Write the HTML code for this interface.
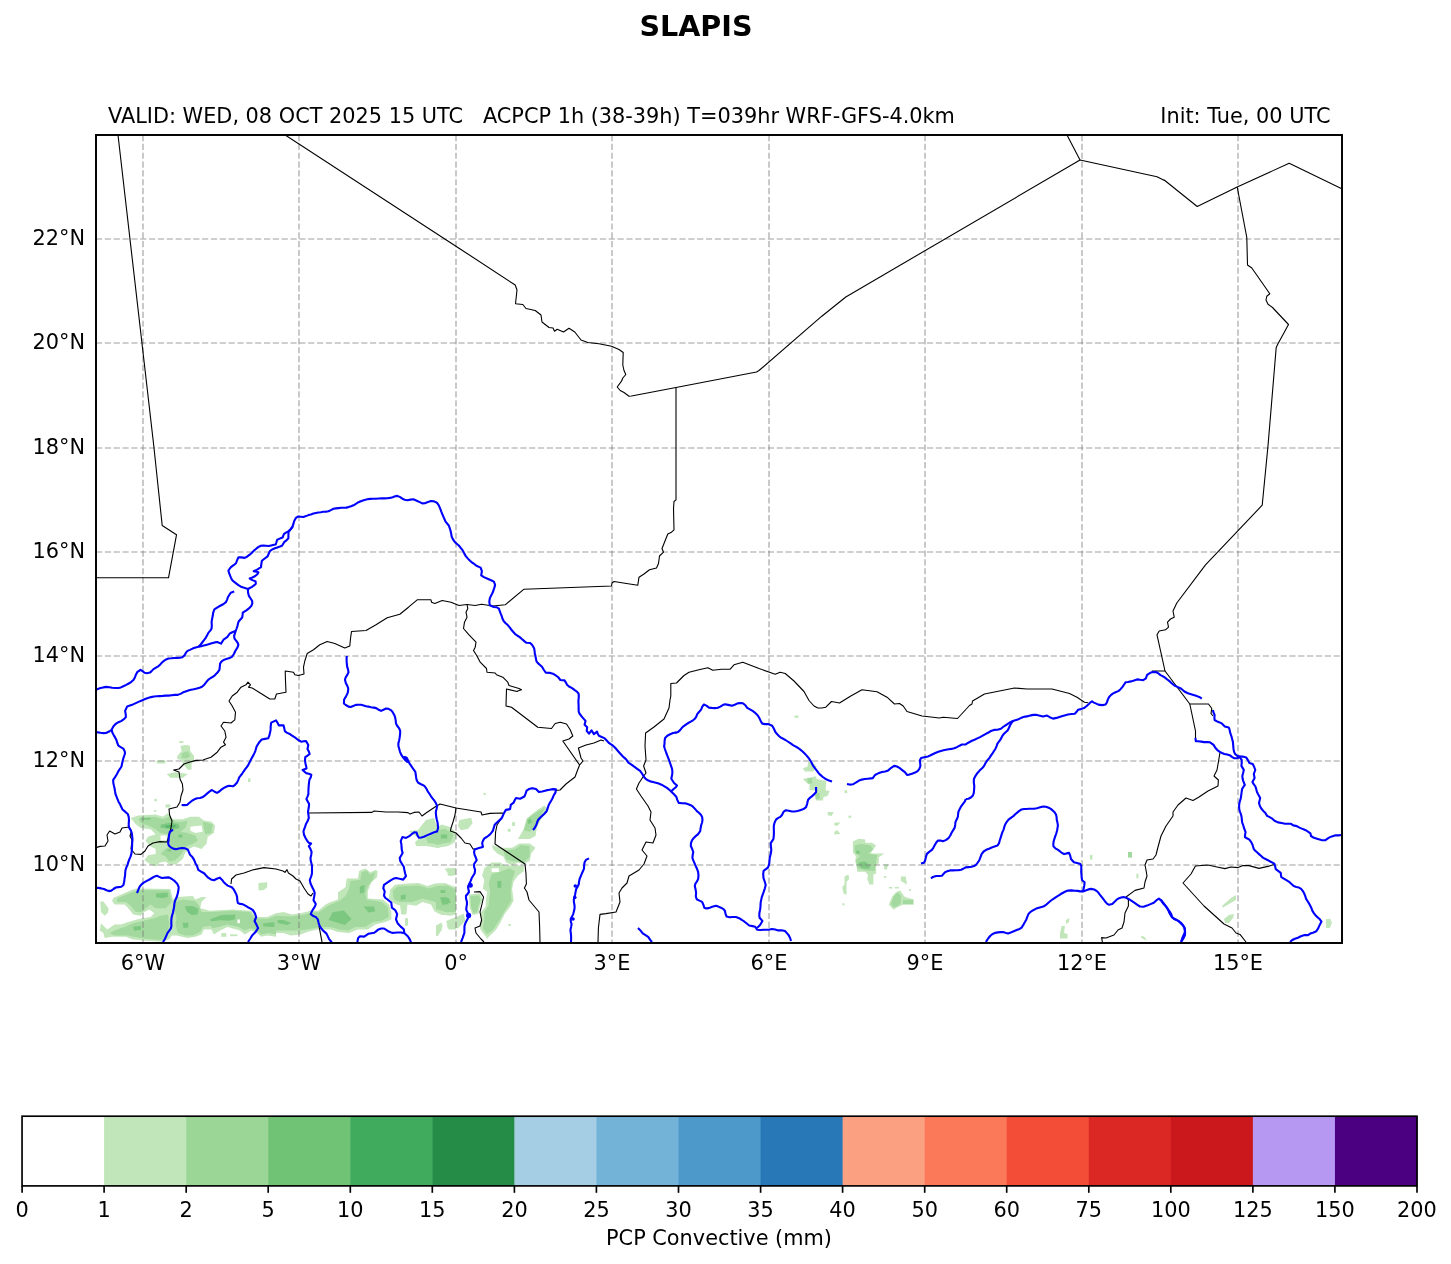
<!DOCTYPE html>
<html><head><meta charset="utf-8"><title>SLAPIS</title>
<style>
html,body{margin:0;padding:0;background:#fff}
svg{display:block;will-change:transform}
text{font-family:"DejaVu Sans","Liberation Sans",sans-serif;fill:#000}
</style></head><body>
<svg width="1451" height="1264" viewBox="0 0 1451 1264">
<rect width="1451" height="1264" fill="#fff"/>
<defs><clipPath id="c"><rect x="96.0" y="135.0" width="1246.0" height="808.0"/></clipPath></defs>

<g clip-path="url(#c)">
<path d="M113.4 897.8 L120.8 894.7 L132.0 889.7 L136.9 888.5 L170.4 889.1 L172.9 899.6 L176.6 897.1 L192.8 895.9 L195.3 899.6 L201.5 897.1 L206.4 897.1 L201.5 902.1 L200.2 908.3 L210.1 910.8 L232.5 909.6 L251.1 910.8 L256.0 917.0 L267.2 917.0 L276.0 913.3 L276.0 936.8 L267.2 935.6 L261.0 936.8 L256.0 931.9 L251.1 930.6 L244.9 934.4 L239.9 930.6 L227.5 926.9 L220.1 930.6 L213.9 934.4 L211.4 929.4 L203.9 929.4 L201.5 934.4 L195.3 936.8 L187.8 938.1 L176.6 935.6 L171.7 935.6 L169.2 939.3 L163.0 941.8 L143.1 940.6 L132.0 939.3 L125.8 936.8 L112.1 936.8 L104.7 938.1 L103.4 933.1 L99.7 930.6 L101.0 923.2 L107.2 929.4 L114.6 924.4 L120.8 924.4 L128.3 922.0 L136.9 919.5 L141.9 918.2 L150.6 917.0 L154.3 913.3 L149.3 909.6 L144.4 912.0 L140.7 915.8 L133.2 914.5 L128.3 908.3 L124.5 904.6 L114.6 904.6 L112.1 900.9Z" fill="#c1e6ba"/>
<path d="M100.3 901.5 L103.4 901.5 L108.4 908.3 L108.4 912.0 L104.7 915.8 L101.0 912.0Z" fill="#c1e6ba"/>
<path d="M258.5 882.9 L267.2 882.3 L267.2 887.2 L263.5 890.3 L258.5 890.3Z" fill="#c1e6ba"/>
<path d="M221.3 933.1 L226.3 933.1 L226.3 936.8 L221.3 936.8Z" fill="#c1e6ba"/>
<path d="M230.0 934.4 L237.4 934.4 L237.4 936.2 L230.0 936.2Z" fill="#c1e6ba"/>
<path d="M276.0 913.3 L283.4 912.0 L292.1 914.5 L300.8 913.3 L310.7 910.8 L318.2 910.8 L325.6 904.6 L330.6 902.1 L338.0 899.6 L338.0 892.2 L345.5 887.2 L346.7 878.5 L357.9 878.5 L359.1 871.1 L365.3 868.6 L370.3 872.3 L375.3 869.9 L377.7 871.1 L377.1 877.3 L371.5 882.3 L367.8 890.9 L367.8 898.4 L382.7 899.6 L388.9 904.6 L391.4 912.0 L391.4 919.5 L385.2 922.0 L375.3 924.4 L367.8 929.4 L357.9 929.4 L349.2 933.1 L338.0 931.9 L330.6 929.4 L323.1 929.4 L316.9 929.4 L307.0 931.9 L300.8 934.4 L290.9 935.6 L283.4 933.1 L276.0 933.1Z" fill="#c1e6ba"/>
<path d="M390.1 889.7 L395.1 884.7 L407.5 883.5 L418.7 882.9 L427.4 886.0 L434.8 883.5 L444.7 882.9 L456.0 887.2 L456.0 914.5 L449.7 915.8 L442.3 914.5 L441.0 909.6 L434.8 912.0 L431.1 904.6 L422.4 902.1 L416.2 905.8 L407.5 904.6 L406.3 914.5 L401.3 914.5 L400.1 905.8 L393.9 903.3 L388.9 898.4Z" fill="#c1e6ba"/>
<path d="M444.7 868.6 L456.0 868.0 L456.0 874.8 L449.7 876.1Z" fill="#c1e6ba"/>
<path d="M405.0 918.2 L408.1 918.2 L408.1 925.7 L405.0 925.7Z" fill="#c1e6ba"/>
<path d="M436.0 935.6 L437.3 929.4 L441.0 924.4 L442.9 925.7 L439.8 931.9 L437.9 936.2Z" fill="#c1e6ba"/>
<path d="M447.2 923.2 L456.0 920.7 L456.0 929.4 L448.5 929.4Z" fill="#c1e6ba"/>
<path d="M518.0 839.0 L523.8 828.8 L526.7 818.5 L535.5 811.2 L544.3 805.4 L548.7 809.8 L541.4 818.5 L537.0 827.3 L535.5 836.1 L529.7 839.0Z" fill="#c1e6ba"/>
<path d="M491.6 844.9 L500.4 847.8 L512.1 847.8 L519.4 843.4 L529.7 843.4 L535.5 847.8 L531.1 853.7 L529.7 861.0 L523.8 863.9 L518.0 862.4 L512.1 865.4 L506.2 862.4 L503.3 856.6 L497.5 853.7 L493.1 849.3Z" fill="#c1e6ba"/>
<path d="M484.3 868.3 L491.6 862.4 L500.4 862.4 L504.8 865.4 L512.1 865.4 L523.8 865.4 L523.8 871.2 L518.0 875.6 L513.6 881.5 L512.1 888.8 L513.6 900.5 L510.6 906.3 L504.8 913.7 L500.4 922.4 L496.0 929.8 L490.1 935.6 L487.2 938.5 L482.8 932.7 L479.9 928.3 L481.4 919.5 L479.9 913.7 L485.8 906.3 L485.8 900.5 L487.2 891.7 L482.8 888.8 L484.3 880.0 L482.1 875.6Z" fill="#c1e6ba"/>
<path d="M436.0 827.3 L441.9 824.4 L450.6 827.3 L456.5 833.2 L455.0 842.0 L447.7 846.3 L436.0 847.8Z" fill="#c1e6ba"/>
<path d="M459.4 820.0 L471.1 817.8 L472.6 822.9 L468.2 828.8 L460.9 830.2 L458.0 825.9Z" fill="#c1e6ba"/>
<path d="M436.0 885.9 L444.8 884.4 L452.1 890.3 L456.5 900.5 L455.0 909.3 L449.2 915.1 L441.9 915.1 L436.0 912.2Z" fill="#c1e6ba"/>
<path d="M446.2 921.0 L463.8 913.7 L465.3 921.0 L458.0 928.3 L447.7 928.3Z" fill="#c1e6ba"/>
<path d="M436.0 925.4 L441.9 922.4 L441.9 929.8 L437.5 935.6 L436.0 935.6Z" fill="#c1e6ba"/>
<path d="M468.9 894.6 L479.9 893.2 L482.8 899.0 L479.9 906.3 L478.4 913.7 L472.6 915.1 L469.7 907.8Z" fill="#c1e6ba"/>
<path d="M447.7 868.3 L454.3 868.3 L454.3 875.6 L447.7 875.6Z" fill="#c1e6ba"/>
<path d="M483.6 792.9 L485.8 792.9 L485.8 795.1 L483.6 795.1Z" fill="#c1e6ba"/>
<path d="M512.1 822.2 L515.0 822.2 L515.0 825.9 L512.1 825.9Z" fill="#c1e6ba"/>
<path d="M507.7 828.8 L510.6 828.8 L510.6 831.7 L507.7 831.7Z" fill="#c1e6ba"/>
<path d="M508.4 923.9 L510.6 923.9 L510.6 926.1 L508.4 926.1Z" fill="#c1e6ba"/>
<path d="M130.7 818.1 L138.2 815.6 L155.6 814.4 L163.0 816.8 L168.0 813.1 L172.9 819.3 L182.8 819.3 L190.3 816.8 L199.0 816.8 L203.9 820.6 L211.4 821.8 L215.1 825.5 L213.9 833.0 L207.7 836.7 L206.4 844.1 L201.5 849.1 L194.0 846.6 L189.1 849.1 L185.3 852.8 L182.8 859.0 L176.6 864.0 L170.4 865.2 L165.5 861.5 L159.3 862.8 L156.8 866.5 L151.8 865.2 L144.4 860.3 L148.1 855.3 L155.6 854.1 L155.6 849.1 L149.3 845.4 L145.6 840.4 L148.1 836.7 L155.6 834.2 L150.6 829.3 L140.7 828.0 L135.7 824.3Z" fill="#c1e6ba"/>
<path d="M177.3 756.1 L181.6 751.1 L180.4 746.1 L185.3 744.9 L189.7 745.5 L190.3 751.1 L194.0 756.1 L194.0 761.0 L191.5 763.5 L191.5 769.7 L187.8 769.7 L182.8 763.5 L181.6 759.8 L177.3 759.2Z" fill="#c1e6ba"/>
<path d="M179.1 741.2 L183.5 741.2 L183.5 743.0 L179.1 743.0Z" fill="#c1e6ba"/>
<path d="M156.8 760.4 L165.5 760.4 L165.5 763.5 L156.8 763.5Z" fill="#c1e6ba"/>
<path d="M166.7 774.0 L175.4 772.2 L187.8 774.0 L182.8 777.8 L170.4 777.8Z" fill="#c1e6ba"/>
<path d="M154.3 798.9 L156.8 798.9 L156.8 801.3 L154.3 801.3Z" fill="#c1e6ba"/>
<path d="M165.5 804.4 L170.4 804.4 L170.4 807.5 L165.5 807.5Z" fill="#c1e6ba"/>
<path d="M154.3 810.0 L156.2 810.0 L156.2 811.9 L154.3 811.9Z" fill="#c1e6ba"/>
<path d="M248.0 778.4 L250.5 778.4 L250.5 782.1 L248.0 782.1Z" fill="#c1e6ba"/>
<path d="M802.8 768.2 L807.5 766.8 L808.2 762.1 L812.2 762.1 L816.9 766.8 L812.9 771.5 L804.8 771.5Z" fill="#c1e6ba"/>
<path d="M802.8 778.9 L812.2 776.9 L815.6 776.2 L816.9 778.9 L826.3 780.9 L825.6 790.3 L829.7 791.0 L827.7 795.7 L823.6 797.1 L822.9 800.4 L816.2 800.4 L814.9 795.7 L815.6 790.3 L809.5 790.3 L809.5 784.3 L806.1 782.3Z" fill="#c1e6ba"/>
<path d="M852.9 841.4 L858.6 838.8 L865.3 839.4 L865.3 842.8 L872.0 842.8 L876.1 845.5 L872.0 850.9 L870.7 853.6 L884.1 853.6 L878.8 857.6 L878.8 863.0 L876.1 865.7 L876.1 873.7 L873.4 874.4 L873.4 884.5 L869.3 884.5 L867.3 879.1 L868.0 875.1 L865.3 871.7 L857.2 871.7 L856.6 865.7 L855.2 861.6 L855.9 856.2 L852.9 852.2Z" fill="#c1e6ba"/>
<path d="M888.8 904.7 L892.2 896.6 L896.2 891.9 L900.3 890.5 L904.3 896.6 L908.3 897.9 L913.7 899.3 L913.7 904.7 L903.0 904.7 L897.6 907.3 L893.6 909.4Z" fill="#c1e6ba"/>
<path d="M844.5 876.4 L848.5 874.4 L849.2 879.1 L846.5 881.8 L846.5 894.6 L843.8 893.9 L842.2 887.2 L844.5 884.5Z" fill="#c1e6ba"/>
<path d="M844.5 790.3 L847.2 790.3 L847.2 793.0 L844.5 793.0Z" fill="#c1e6ba"/>
<path d="M848.5 815.6 L851.2 815.6 L851.2 817.9 L848.5 817.9Z" fill="#c1e6ba"/>
<path d="M827.7 811.9 L833.7 811.9 L831.7 815.9 L827.7 815.2Z" fill="#c1e6ba"/>
<path d="M834.4 822.6 L840.4 822.6 L837.1 826.0 L834.4 825.3Z" fill="#c1e6ba"/>
<path d="M834.4 832.0 L837.1 830.0 L840.4 834.1 L834.4 834.5Z" fill="#c1e6ba"/>
<path d="M884.1 864.3 L888.2 864.3 L886.8 869.7 L884.1 869.0Z" fill="#c1e6ba"/>
<path d="M884.1 876.1 L886.2 876.1 L886.2 878.0 L884.1 878.0Z" fill="#c1e6ba"/>
<path d="M900.9 876.4 L905.7 876.4 L907.0 884.5 L904.3 883.1 L900.9 881.1Z" fill="#c1e6ba"/>
<path d="M888.8 886.9 L892.2 886.9 L892.2 888.5 L888.8 888.5Z" fill="#c1e6ba"/>
<path d="M894.9 886.9 L898.9 886.9 L898.9 888.5 L894.9 888.5Z" fill="#c1e6ba"/>
<path d="M909.0 889.2 L911.0 889.2 L911.0 890.9 L909.0 890.9Z" fill="#c1e6ba"/>
<path d="M842.4 903.3 L844.5 903.3 L844.5 905.3 L842.4 905.3Z" fill="#c1e6ba"/>
<path d="M409.0 831.0 L418.0 830.0 L426.0 820.0 L434.0 818.0 L436.0 824.0 L440.0 828.0 L452.0 830.0 L456.0 838.0 L452.0 844.0 L438.0 848.0 L426.0 846.0 L416.0 846.0 L415.0 842.0 L420.0 838.0 L412.0 834.0Z" fill="#c1e6ba"/>
<path d="M794.5 715.5 L798.5 715.5 L798.5 717.8 L794.5 717.8Z" fill="#c1e6ba"/>
<path d="M1090.0 855.0 L1092.4 855.0 L1092.4 859.6 L1090.0 859.6Z" fill="#c1e6ba"/>
<path d="M1136.4 873.6 L1138.4 873.6 L1138.4 878.4 L1136.4 878.4Z" fill="#c1e6ba"/>
<path d="M1066.0 920.0 L1069.6 918.0 L1069.0 922.0 L1066.0 924.0Z" fill="#c1e6ba"/>
<path d="M1061.6 926.0 L1065.0 926.0 L1064.0 933.0 L1067.6 934.0 L1067.6 938.4 L1060.0 938.4 L1060.0 933.0Z" fill="#c1e6ba"/>
<path d="M1141.0 936.0 L1144.0 936.4 L1147.0 940.0 L1144.0 939.6 L1141.0 937.6Z" fill="#c1e6ba"/>
<path d="M1222.0 906.0 L1231.0 898.0 L1236.0 895.0 L1236.0 900.0 L1229.0 904.0 L1223.0 907.4Z" fill="#c1e6ba"/>
<path d="M1224.0 919.0 L1229.0 915.0 L1234.0 914.0 L1233.0 918.0 L1229.0 923.0 L1225.0 923.0Z" fill="#c1e6ba"/>
<path d="M1326.0 919.0 L1329.0 919.0 L1330.0 918.0 L1331.0 921.0 L1332.0 922.0 L1330.0 928.0 L1326.0 928.0Z" fill="#c1e6ba"/>
<path d="M117.1 898.4 L132.0 892.2 L138.2 890.3 L169.2 890.3 L171.7 902.1 L165.5 908.3 L155.6 908.3 L150.6 904.6 L145.6 908.3 L141.9 912.0 L135.7 912.0 L130.7 905.8 L125.8 902.1 L117.1 902.1Z" fill="#a3d99e"/>
<path d="M124.5 926.9 L133.2 923.2 L143.1 920.7 L154.3 918.2 L160.5 915.8 L168.0 914.5 L169.2 924.4 L166.7 936.8 L161.8 940.0 L145.6 938.7 L133.2 936.8 L128.3 935.6 L114.6 935.6 L109.6 933.1 L117.1 929.4Z" fill="#a3d99e"/>
<path d="M175.4 902.1 L182.8 899.6 L195.3 900.9 L199.0 905.8 L201.5 912.0 L211.4 912.0 L232.5 910.8 L249.8 912.0 L254.8 918.2 L267.2 918.9 L276.0 915.8 L276.0 934.4 L268.5 933.1 L261.0 934.4 L256.0 929.4 L249.8 928.2 L244.9 930.6 L238.7 926.9 L227.5 924.4 L218.8 926.9 L212.6 928.2 L210.1 925.7 L202.7 926.9 L200.2 931.9 L192.8 935.6 L185.3 935.6 L177.9 933.1 L175.4 924.4 L176.6 917.0 L174.2 909.6Z" fill="#a3d99e"/>
<path d="M276.0 915.8 L292.1 916.4 L302.1 915.1 L312.0 912.7 L319.4 912.0 L328.1 905.8 L339.3 900.9 L345.5 895.9 L349.2 888.5 L350.4 881.0 L360.4 879.8 L361.6 872.3 L366.6 870.5 L370.3 874.8 L375.3 871.7 L372.8 879.8 L367.8 886.0 L365.3 893.4 L366.6 899.6 L381.5 902.1 L387.7 907.1 L388.9 917.0 L381.5 920.7 L372.8 922.0 L365.3 926.9 L355.4 926.9 L348.0 930.6 L339.3 929.4 L330.6 926.9 L319.4 926.9 L307.0 929.4 L298.3 930.6 L288.4 930.6 L276.0 930.6Z" fill="#a3d99e"/>
<path d="M392.6 890.9 L397.6 886.6 L418.7 885.4 L428.6 888.5 L437.3 886.0 L447.2 885.4 L456.0 889.7 L456.0 912.0 L444.7 912.0 L441.0 904.6 L432.3 900.9 L422.4 898.4 L412.5 902.1 L400.1 902.1 L393.9 899.6Z" fill="#a3d99e"/>
<path d="M523.8 830.2 L527.5 818.5 L537.0 812.0 L544.3 808.3 L539.9 818.5 L535.5 827.3 L529.7 831.7Z" fill="#a3d99e"/>
<path d="M503.3 850.7 L515.0 849.3 L520.9 844.9 L529.7 846.3 L529.7 856.6 L523.8 862.4 L512.1 861.0 L506.2 859.5Z" fill="#a3d99e"/>
<path d="M491.6 874.2 L501.9 871.2 L509.2 868.3 L515.0 871.2 L512.1 880.0 L510.6 891.7 L511.4 900.5 L504.8 910.7 L498.9 921.0 L493.1 929.8 L487.2 934.2 L482.8 928.3 L484.3 919.5 L484.3 912.2 L488.7 904.9 L490.1 891.7 L488.7 882.9Z" fill="#a3d99e"/>
<path d="M436.0 830.2 L444.8 828.8 L453.6 834.6 L450.6 842.0 L436.0 844.9Z" fill="#a3d99e"/>
<path d="M436.0 888.8 L444.8 888.1 L452.1 894.6 L453.6 904.9 L447.7 912.2 L436.0 909.3Z" fill="#a3d99e"/>
<path d="M470.4 896.1 L479.2 895.4 L480.6 899.8 L478.4 906.3 L477.0 912.2 L473.3 912.9 L471.1 907.1Z" fill="#a3d99e"/>
<path d="M138.2 818.7 L154.3 816.8 L163.0 819.3 L169.2 816.8 L175.4 821.8 L182.8 821.8 L187.8 820.6 L185.3 828.0 L180.4 831.7 L187.8 833.0 L195.3 835.5 L197.7 840.4 L192.8 844.1 L185.3 846.6 L181.6 854.1 L175.4 860.3 L169.2 861.5 L165.5 856.6 L160.5 854.1 L165.5 849.1 L170.4 846.6 L170.4 841.7 L168.0 834.2 L160.5 833.0 L155.6 829.3 L148.1 825.5 L140.7 823.1Z" fill="#a3d99e"/>
<path d="M202.7 821.8 L212.6 824.3 L211.4 833.0 L205.2 834.2 L203.9 828.0Z" fill="#a3d99e"/>
<path d="M181.6 753.6 L187.8 751.1 L190.3 756.1 L186.6 758.5 L181.6 757.9Z" fill="#a3d99e"/>
<path d="M807.5 778.2 L812.2 778.2 L812.2 783.6 L807.5 783.6Z" fill="#a3d99e"/>
<path d="M815.6 793.0 L819.6 793.0 L819.6 799.1 L815.6 799.1Z" fill="#a3d99e"/>
<path d="M854.6 845.5 L861.3 844.1 L870.7 845.5 L873.4 849.5 L868.0 853.6 L877.4 854.9 L876.1 861.6 L874.7 871.0 L865.3 870.4 L857.2 868.3 L855.9 860.3 L859.9 856.2 L854.6 852.2Z" fill="#a3d99e"/>
<path d="M890.9 904.0 L893.6 896.6 L897.6 892.5 L900.9 895.2 L900.9 903.3 L897.6 906.0 L893.6 907.3Z" fill="#a3d99e"/>
<path d="M903.0 899.9 L913.1 899.9 L913.1 904.0 L903.0 904.0Z" fill="#a3d99e"/>
<path d="M426.0 838.0 L438.0 832.0 L450.0 834.0 L450.0 840.0 L438.0 844.0 L428.0 843.0Z" fill="#a3d99e"/>
<path d="M1128.0 852.0 L1132.0 852.0 L1132.0 857.6 L1128.0 857.6Z" fill="#a3d99e"/>
<path d="M237.4 919.5 L239.9 919.5 L239.9 923.2 L237.4 923.2Z" fill="#ffffff"/>
<path d="M491.6 868.3 L498.9 868.3 L498.9 872.0 L491.6 872.0Z" fill="#ffffff"/>
<path d="M190.3 826.8 L201.5 825.5 L202.7 831.7 L195.3 833.0 L190.3 830.5Z" fill="#ffffff"/>
<path d="M160.5 835.5 L166.7 835.5 L166.7 840.4 L160.5 840.4Z" fill="#ffffff"/>
<path d="M156.0 893.4 L167.6 892.5 L168.1 896.8 L162.8 898.3 L156.0 897.3Z" fill="#7dc880"/>
<path d="M184.9 906.3 L192.6 905.9 L198.4 908.8 L197.4 914.6 L191.6 915.1 L186.8 911.7Z" fill="#7dc880"/>
<path d="M182.5 922.7 L188.3 922.7 L188.3 927.5 L183.5 928.0Z" fill="#7dc880"/>
<path d="M221.7 914.9 L235.3 914.4 L235.3 919.3 L228.5 920.7 L220.8 920.3 L211.1 921.2 L210.1 919.3Z" fill="#7dc880"/>
<path d="M133.1 926.7 L140.9 925.8 L140.9 930.1 L134.1 930.6Z" fill="#7dc880"/>
<path d="M262.7 923.5 L274.4 922.1 L274.4 926.9 L263.7 926.4Z" fill="#7dc880"/>
<path d="M277.6 920.1 L283.4 920.1 L291.2 923.0 L287.3 924.9 L277.6 923.0Z" fill="#7dc880"/>
<path d="M332.3 912.3 L343.9 910.4 L351.6 919.1 L344.8 924.9 L335.2 922.0 L328.4 920.1 L331.3 915.2Z" fill="#7dc880"/>
<path d="M359.8 886.7 L364.6 884.8 L364.1 892.5 L359.8 893.5Z" fill="#7dc880"/>
<path d="M363.5 906.6 L374.2 906.6 L375.1 911.4 L368.4 912.4Z" fill="#7dc880"/>
<path d="M400.8 895.2 L405.6 894.2 L405.6 899.1 L400.8 900.0Z" fill="#7dc880"/>
<path d="M441.2 898.9 L448.9 898.0 L450.9 902.8 L444.1 903.8Z" fill="#7dc880"/>
<path d="M440.5 890.1 L445.3 890.1 L445.3 893.0 L440.5 893.0Z" fill="#7dc880"/>
<path d="M527.4 820.3 L530.8 818.6 L531.9 822.6 L528.5 824.3Z" fill="#7dc880"/>
<path d="M497.3 881.0 L501.3 881.0 L501.3 887.8 L497.3 887.8Z" fill="#7dc880"/>
<path d="M440.1 897.2 L447.0 897.2 L448.1 904.0 L442.4 905.1Z" fill="#7dc880"/>
<path d="M160.6 824.8 L169.4 822.8 L178.1 823.8 L180.0 827.7 L174.2 829.6 L166.5 828.6 L160.6 827.7Z" fill="#7dc880"/>
<path d="M140.8 817.7 L150.5 817.7 L150.5 819.7 L140.8 819.7Z" fill="#7dc880"/>
<path d="M178.4 834.6 L182.3 834.6 L182.3 837.5 L178.4 837.5Z" fill="#7dc880"/>
<path d="M167.3 849.4 L171.1 849.4 L171.1 851.3 L167.3 851.3Z" fill="#7dc880"/>
<path d="M856.3 850.6 L859.5 850.6 L859.5 853.8 L856.3 853.8Z" fill="#7dc880"/>
<path d="M858.7 862.4 L865.0 861.4 L870.3 865.6 L869.2 868.7 L861.9 868.2 L858.7 865.6Z" fill="#7dc880"/>
<path d="M440.9 834.5 L447.1 834.5 L447.1 838.5 L440.9 838.5Z" fill="#7dc880"/>
<path d="M164.5 825.7 L175.4 824.7 L175.4 827.2 L166.5 827.7Z" fill="#55b56a"/>
</g>
<g stroke="#808080" stroke-opacity="0.5" stroke-width="1.67" stroke-dasharray="6.17,2.67" fill="none">
<line x1="143.0" y1="135.0" x2="143.0" y2="943.0"/>
<line x1="299.0" y1="135.0" x2="299.0" y2="943.0"/>
<line x1="456.0" y1="135.0" x2="456.0" y2="943.0"/>
<line x1="612.0" y1="135.0" x2="612.0" y2="943.0"/>
<line x1="769.0" y1="135.0" x2="769.0" y2="943.0"/>
<line x1="925.0" y1="135.0" x2="925.0" y2="943.0"/>
<line x1="1082.0" y1="135.0" x2="1082.0" y2="943.0"/>
<line x1="1238.0" y1="135.0" x2="1238.0" y2="943.0"/>
<line x1="96.0" y1="865.0" x2="1342.0" y2="865.0"/>
<line x1="96.0" y1="761.0" x2="1342.0" y2="761.0"/>
<line x1="96.0" y1="656.0" x2="1342.0" y2="656.0"/>
<line x1="96.0" y1="552.0" x2="1342.0" y2="552.0"/>
<line x1="96.0" y1="448.0" x2="1342.0" y2="448.0"/>
<line x1="96.0" y1="343.0" x2="1342.0" y2="343.0"/>
<line x1="96.0" y1="239.0" x2="1342.0" y2="239.0"/>
</g>
<g clip-path="url(#c)" fill="none" stroke-linejoin="round" stroke-linecap="butt">
<g stroke="#000" stroke-width="1.1">
<polyline points="118.0,135.0 153.8,446.0 153.8,446.0 162.2,525.5 176.5,534.8 168.5,577.8 96.0,577.8"/>
<polyline points="285.2,135.0 459.0,248.2 515.2,285.0 517.0,290.0 515.5,303.8 522.8,304.5 526.0,308.5 535.2,310.5 541.0,315.0 542.0,322.0 549.0,327.5 553.0,328.0 554.5,331.2 557.2,329.2 563.5,332.0 569.0,328.2 574.8,332.0 581.0,340.0 587.8,342.5 599.0,343.8 611.5,346.2 619.0,349.5 623.2,352.5 622.8,365.0 624.0,370.5 625.8,374.5 622.8,378.0 621.5,381.2 617.2,387.0 620.2,390.5 624.0,392.5 629.0,396.2 631.5,396.0 676.0,387.5 756.5,372.0 759.0,370.5 821.8,316.2 845.8,297.0 1080.0,160.0 1157.0,176.8 1164.5,180.5 1164.2,180.0 1197.2,206.5 1237.2,187.0 1289.2,163.2 1341.8,188.8"/>
<polyline points="1067.0,135.0 1080.0,160.0"/>
<polyline points="1237.2,187.0 1246.8,237.5 1247.5,265.0 1251.8,268.0 1269.8,293.8 1266.8,296.2 1266.0,300.0 1268.0,304.2 1272.5,307.5 1288.5,324.5 1278.0,343.8 1276.2,347.5 1268.0,445.8 1262.2,505.2 1205.5,564.8 1176.8,603.0 1173.0,611.0 1174.2,617.2 1170.5,619.0 1167.5,622.2 1168.5,627.2 1165.5,629.8 1159.2,631.0 1157.0,634.8 1165.0,671.0 1151.8,671.0"/>
<polyline points="1165.0,671.0 1189.8,704.0 1208.5,704.0 1211.8,708.5 1211.0,713.5 1213.0,716.0"/>
<polyline points="1189.8,704.0 1195.5,731.0 1195.5,738.5"/>
<polyline points="676.0,387.5 676.0,499.8 674.0,501.5 673.5,508.5 674.0,529.8 671.5,532.2 667.8,534.0 664.0,543.5 662.0,548.5 663.5,552.2 659.5,556.0 658.5,563.5 656.5,568.0 649.5,569.8 644.0,574.0 639.0,577.2 637.8,585.2 626.5,583.5 614.0,581.5 612.0,583.0 611.5,586.0 524.0,589.2 505.2,604.8 492.8,606.0 481.5,604.2 475.2,605.5 467.0,604.5"/>
<polyline points="467.0,604.5 459.0,605.5 451.0,602.2 442.2,600.5 434.8,603.5 431.5,602.2 431.0,599.8 417.2,599.8 408.5,607.2 399.8,614.2 387.2,617.8 376.0,624.8 366.0,630.5 351.5,631.5 350.5,638.5 349.8,646.0 344.8,648.0 334.8,643.5 327.2,641.5 319.8,644.8 313.5,649.8 307.2,653.5 304.8,661.0 303.5,667.2 304.0,674.0 298.5,675.5 294.8,674.8 293.5,672.2 285.2,671.0 285.5,681.0 286.0,692.2 276.5,694.0 274.8,699.0 269.8,699.0 261.0,693.5 252.2,688.0 248.5,687.2 250.5,684.8 248.0,682.2 246.0,684.8 241.0,687.2 237.2,692.2 232.2,696.0 229.0,701.0 232.2,706.0 235.5,712.2 234.8,719.8 231.0,723.0 223.5,722.2 221.0,726.0 224.8,731.0 226.0,737.2 223.5,742.2 225.5,744.8 221.0,747.2 217.2,752.2 211.0,757.2 203.5,759.8 204.0,760.0 196.0,760.4 190.0,762.0 184.0,764.0 179.0,769.0 173.6,770.0 179.0,772.0 180.0,779.0 182.4,784.0 183.0,790.0 181.0,796.0 180.0,802.0 177.0,807.0 169.0,809.0 169.6,815.0 172.0,821.0 171.0,828.0 169.0,836.0 167.0,842.0 160.0,841.6 153.0,843.0 148.0,846.0 145.0,851.0 141.0,854.4 135.0,854.0 131.0,849.0 132.0,840.0 130.0,836.0 131.6,831.0 129.0,827.0 122.0,828.0 120.0,832.0 115.0,834.0 109.6,831.0 107.0,835.0 108.0,841.0 105.0,846.0 100.0,846.4 96.0,847.6"/>
<polyline points="467.0,604.5 467.8,608.5 466.0,612.2 467.0,617.2 464.5,622.2 463.5,628.5 469.0,634.8 476.0,642.2 475.2,647.2 473.5,650.5 477.0,656.0 480.2,662.2 486.5,668.5 487.0,672.2 495.2,673.0 496.5,674.8 502.8,677.2 507.8,682.2 509.0,685.5 519.0,688.5 521.5,689.8 517.8,691.0 517.0,691.5 506.5,689.0 506.0,706.0 511.5,707.2 537.8,727.2 551.5,728.5 555.2,723.5 560.2,722.2 566.5,724.0 570.2,729.8 572.8,736.0 569.0,739.0 562.8,741.0 579.6,765.0 583.0,761.0 581.0,758.0 578.4,748.0 586.0,745.0 594.0,743.0 601.0,740.0 604.0,741.0"/>
<polyline points="579.6,765.0 578.0,769.0 575.0,777.0 566.0,784.0 560.0,790.0 555.6,790.4"/>
<polyline points="501.0,819.0 497.0,825.0 495.6,832.0 495.0,844.0 510.0,854.0 525.0,864.0 526.0,874.0 526.4,884.0 524.4,888.0 527.0,892.0 529.0,900.0 539.0,912.0 539.6,926.0 540.0,942.0"/>
<polyline points="309.0,813.0 372.0,812.4 374.0,811.0 385.8,812.0 398.0,812.0 408.0,812.6 410.0,814.0 414.0,812.4 419.0,812.0 422.0,816.0 426.0,813.0 432.0,809.0 435.0,807.0 440.0,804.0 456.0,808.0 481.0,812.0 482.0,815.0 490.0,813.4 502.0,813.0 504.0,814.0"/>
<polyline points="456.0,808.0 455.0,815.0 453.0,822.0 451.0,828.0 450.4,831.0 456.0,833.0 461.0,838.0 465.0,843.0 470.0,844.0 473.0,849.0 476.0,849.0"/>
<polyline points="474.0,892.0 480.0,891.6 483.6,897.0 482.0,904.0 480.0,912.0 481.6,920.0 480.0,926.0 475.0,928.0 476.0,933.0 481.0,939.0 484.0,942.0"/>
<polyline points="231.0,884.0 231.6,879.0 236.0,875.0 244.0,873.0 254.0,869.6 264.0,867.6 276.0,869.0 283.0,871.0 285.0,872.4 287.0,869.6 288.4,873.0 293.0,876.0 296.0,879.0 300.0,881.0 304.0,888.0 308.0,894.0 311.0,896.0 313.0,893.0"/>
<polyline points="319.0,926.0 322.0,942.0"/>
<polyline points="598.0,942.0 598.4,928.0 600.0,914.4 606.0,913.6 616.0,912.0 620.0,902.0 619.0,893.0 622.0,888.0 627.0,883.0 629.0,876.0 639.0,870.0 644.0,864.0 647.0,856.0 642.0,850.0 646.0,842.0 653.0,843.0 656.0,835.0 655.0,828.0 650.0,820.0 651.0,812.0 648.0,806.0 641.0,796.0 636.4,789.0 639.0,783.0 643.0,777.0 646.0,773.0 643.6,766.0 646.0,760.0 645.0,746.0 645.6,733.0 654.0,727.0 664.0,719.0 669.0,708.0 670.0,700.0 670.8,696.0 670.8,683.5 676.5,683.0 684.0,675.5 689.0,672.2 699.0,669.8 707.8,667.8 712.8,670.2 721.5,669.2 730.2,669.2 734.0,664.8 742.8,662.2 759.0,668.5 775.2,674.2 780.2,672.2 785.2,673.5 794.0,681.0 804.0,691.5 809.0,700.5 814.0,706.0 817.8,708.0 821.8,708.0 825.8,707.2 831.5,701.5 839.5,703.0 850.8,696.0 862.0,689.8 877.0,691.8 887.0,697.2 894.5,704.0 899.5,703.5 903.2,706.0 907.0,711.5 922.0,716.0 939.5,718.0 943.2,717.2 957.5,718.5 969.5,705.5 972.0,704.0 972.5,701.0 984.5,694.0 997.0,691.5 1014.5,688.0 1027.0,689.0 1052.0,689.0 1069.5,693.5 1077.0,697.2 1084.5,702.2 1088.2,702.8"/>
<polyline points="1220.0,752.4 1218.4,762.0 1217.0,770.0 1214.0,776.0 1218.4,780.0 1218.0,786.0 1208.0,791.0 1199.0,797.0 1193.0,800.4 1186.0,798.0 1178.0,805.0 1173.0,812.0 1173.0,816.0 1166.0,826.0 1161.0,836.0 1158.0,847.0 1156.0,855.0 1153.0,859.0 1147.0,860.0 1145.0,865.0 1146.0,870.0 1147.0,876.0 1145.0,882.0 1144.0,888.0 1135.0,890.4 1126.0,897.0 1128.4,900.0 1128.4,906.0 1125.0,913.0 1124.0,922.0 1122.0,928.0 1118.0,930.0 1114.0,935.0 1106.0,938.0 1101.6,937.6 1102.4,942.0"/>
<polyline points="1274.0,864.4 1268.0,866.4 1259.0,868.4 1249.0,865.6 1243.0,865.6 1238.0,867.6 1231.0,867.0 1225.0,868.6 1217.0,867.0 1208.0,865.0 1195.4,866.0 1191.0,874.0 1183.0,883.0 1204.0,906.0 1224.0,924.0 1232.0,928.0 1236.0,933.0 1240.0,934.4 1246.0,942.0"/>
</g><g stroke="#0000ff" stroke-width="2.1">
<polyline points="248.0,589.0 243.4,587.6 240.9,586.7 238.4,585.1 236.1,583.3 233.9,581.7 231.9,579.8 230.8,577.4 229.3,573.7 228.4,570.5 230.9,567.1 233.6,565.2 236.0,563.2 237.2,560.0 238.5,557.3 241.5,557.4 244.7,557.9 247.0,556.7 249.7,554.7 251.6,552.9 253.6,550.9 255.6,549.3 258.1,547.1 260.9,545.7 263.3,545.5 265.9,545.7 268.5,546.0 271.2,545.4 273.9,544.8 275.7,544.4 276.4,542.3 277.2,539.7 279.8,538.6 282.6,537.5 284.0,533.9 286.0,532.6 288.6,531.1 290.9,528.9 292.6,526.4 293.5,523.7 294.1,521.3 296.0,517.8 297.8,516.6 300.5,516.8 303.4,517.0 306.0,516.1 308.4,515.1 310.9,514.4 313.4,513.6 315.9,513.0 318.3,512.5 320.8,512.2 323.3,511.8 326.0,511.6 328.5,511.3 330.9,510.1 333.4,508.8 336.1,508.4 338.5,508.1 341.2,507.8 343.8,507.8 346.2,507.6 348.5,507.1 351.1,506.3 353.5,505.3 355.9,503.8 358.5,502.2 361.4,501.0 364.6,499.9 367.3,499.3 370.1,498.9 373.1,498.7 376.0,498.8 378.8,498.5 381.7,498.4 384.5,498.4 387.2,498.2 389.9,497.9 392.7,497.2 395.1,496.3 397.3,495.9 400.2,497.1 402.4,498.7 404.7,499.7 407.3,500.2 410.5,499.6 413.4,499.3 417.3,501.0 419.8,502.1 422.3,503.4 424.9,503.2 427.3,502.3 431.0,501.0 434.1,501.4 436.9,502.7 438.8,505.3 440.2,508.6 441.3,511.6 442.5,514.6 443.8,517.7 445.4,521.3 447.0,523.3 448.8,525.5 449.8,528.3 450.6,531.0 451.2,533.7 451.6,536.4 452.7,538.9 453.9,540.7 456.1,543.2 458.8,545.5 460.7,547.8 462.7,550.4 464.2,553.4 465.8,556.1 467.9,558.6 470.0,560.8 472.2,562.6 474.5,564.2 476.4,565.8 480.6,567.6 481.9,571.0 481.2,575.4 483.9,577.1 487.6,578.8 491.1,580.2 493.9,581.6 495.1,584.8 494.6,586.9 493.7,589.7 492.8,592.3 491.2,595.4 489.8,598.4 489.3,601.9 489.8,605.2 493.9,607.0 496.6,607.2 498.9,608.6 499.6,610.7 500.6,613.4 501.6,615.8 502.4,618.5 503.8,621.2 505.7,623.2 508.0,625.3 509.9,627.6 511.4,629.8 513.1,631.8 514.9,633.8 517.2,635.5 519.7,637.1 521.6,638.8 524.3,641.1 526.5,642.8 530.2,643.0 532.2,645.0 534.1,648.3 534.6,650.9 534.8,653.6 535.5,656.0 535.9,658.8 536.5,661.3 537.9,663.1 540.0,665.0 542.0,666.8 543.9,670.0 545.8,672.6 550.3,672.9 552.9,673.7 555.7,675.4 558.0,677.0 560.4,680.0 564.5,680.4 565.8,682.3 567.0,684.7 569.0,686.5 572.1,688.2 574.7,690.2 576.9,691.6 578.5,693.5 578.8,695.5 578.7,698.1 578.4,700.8 578.5,703.5 578.6,706.2 578.6,708.9 578.7,711.5 579.4,713.5 582.2,717.1 585.5,720.9 584.6,724.7 587.2,727.2 586.7,730.9 589.0,733.7 591.5,730.3 593.9,734.1 597.1,731.6 597.5,733.2 598.9,735.7 601.2,736.8 604.3,738.1 606.9,740.7 609.2,743.2 613.0,745.7 614.9,747.5 616.9,749.8 619.0,752.2 620.8,754.2 622.7,756.3 624.7,758.1 626.3,759.6 628.4,762.7 631.1,764.4 634.2,766.7 637.2,768.8 640.1,770.9 642.3,774.0 644.0,777.0 645.7,778.8 647.9,780.3 650.2,781.4 653.1,782.0 655.9,782.7 658.7,783.6 661.5,784.7 664.0,786.1 667.0,787.9 669.9,790.2 671.9,792.3 674.2,794.6 676.3,796.7 677.4,800.1 678.7,802.9 682.2,803.3 685.9,803.4 688.3,804.2 690.7,805.2 692.7,806.4 694.8,808.6 696.9,811.1 698.9,812.7 700.9,814.7 702.1,817.0 702.5,819.6 702.1,822.5 701.2,825.0 700.6,828.2 700.2,831.1 698.1,834.1 695.4,836.4 693.5,838.3 692.1,840.2 691.0,843.0 690.8,845.9 692.1,848.8 693.3,852.0 692.7,854.9 692.4,858.0 693.3,860.4 694.5,863.1 695.6,865.7 697.0,868.8 698.1,871.9 698.5,875.4 698.1,879.1 696.9,881.5 695.4,883.7 694.8,886.0 695.6,889.4 696.1,893.0 695.8,896.3 696.7,899.2 699.4,900.6 702.1,901.9 703.5,905.0 704.3,907.7 706.2,908.4 708.9,908.1 712.2,906.7 716.0,905.8 718.3,906.6 721.0,907.7 723.5,909.1 725.0,911.0 725.5,913.9 726.6,916.5 729.5,917.2 732.9,917.0 736.0,917.0 739.1,918.2 742.0,920.0 744.5,921.7 747.1,923.8 749.2,925.5 752.4,926.1 755.2,926.7 757.1,929.8 760.1,930.0 764.0,929.7 766.7,929.7 769.5,929.6 772.0,929.0 775.2,929.5 778.1,930.4 781.6,930.2 785.0,931.0 786.9,933.1 788.7,935.2 790.2,938.3 791.0,941.0"/>
<polyline points="292.8,526.5 290.8,529.2 288.5,532.2 288.4,535.5 288.4,538.3 286.7,540.1 284.4,541.9 282.0,545.7 280.0,546.5 277.3,547.4 274.9,548.3 272.1,549.5 269.9,551.1 268.8,553.5 267.6,556.3 264.7,558.5 261.9,560.8 261.3,564.2 261.0,567.2 257.1,569.6 253.7,571.2 258.4,572.3 257.4,574.2 254.9,576.3 251.8,577.7 249.7,578.5 252.4,580.1 255.6,581.4 255.8,583.8 254.3,585.2 252.0,586.8 248.0,589.0"/>
<polyline points="248.0,589.0 248.0,592.2 248.9,595.9 250.6,598.5 252.2,601.0 252.3,603.6 251.2,606.1 248.9,608.4 246.4,610.3 242.8,612.7 242.6,614.7 242.2,617.5 238.8,621.2 238.1,623.2 237.5,625.8 236.6,628.5 235.7,630.9 234.8,633.6 234.1,636.1 234.5,638.6 236.1,640.6 237.7,642.9 238.4,644.8 237.4,647.6 235.4,650.7 233.9,654.0 231.9,656.8 229.5,658.1 226.3,659.1 223.6,660.0 221.4,661.7 220.1,663.6 219.8,666.6 219.4,669.9 217.5,672.6 215.0,675.1 213.1,676.7 210.7,678.0 208.4,679.6 206.3,682.0 204.3,684.7 202.0,686.8 199.6,687.7 196.8,688.5 193.8,689.2 191.0,689.7 188.3,690.5 185.6,691.4 183.1,692.3 181.0,693.6 177.8,694.9 174.8,694.9 171.7,695.2 168.4,695.6 165.7,695.6 162.7,695.9 159.7,696.1 156.8,696.3 153.9,696.5 151.0,697.1 148.0,697.9 145.1,699.0 142.4,700.2 139.1,701.6 135.8,703.1 133.0,704.4 129.8,705.6 127.2,706.4 125.1,710.9 125.7,714.3 125.9,717.0 124.0,719.1 121.1,721.1 118.5,722.2 116.1,723.6 113.5,726.3 111.6,729.7 112.3,732.6 113.7,735.1 115.1,737.4 116.4,739.9 117.3,743.0 118.4,745.7 120.7,747.2 123.3,748.6 124.7,751.2 125.0,753.5 123.5,757.8 122.7,760.7 122.0,764.0 121.5,766.5 120.1,768.7 118.6,770.8 117.0,774.0 115.4,776.6 113.2,779.8 113.3,782.7 114.0,786.0 114.6,788.5 115.0,791.2 115.5,794.0 116.5,796.6 117.5,799.2 118.5,801.7 120.0,804.1 121.2,806.8 122.5,809.5 125.4,811.9 127.8,814.1 128.7,816.8 129.0,820.0 128.8,822.6 128.7,825.5 129.4,828.1 130.9,830.5 131.8,833.1 132.2,836.4 132.5,840.0 132.2,842.6 132.1,845.4 132.0,848.1 131.8,851.0 131.3,854.1 130.5,856.6 129.3,859.4 128.3,862.1 127.5,864.8 126.4,867.4 125.5,870.0 125.2,872.7 125.1,875.5 124.6,878.0 124.2,881.8 123.3,885.2 121.3,886.8 118.5,887.1 115.8,887.5 113.5,889.0 111.3,890.6 109.0,891.1 106.5,890.3 104.0,889.0 101.3,888.4 98.2,887.9 96.0,888.0"/>
<polyline points="112.2,729.8 109.6,731.2 106.0,733.0 103.5,733.1 100.6,732.8 97.9,732.4 96.0,732.2"/>
<polyline points="96.0,689.8 97.8,689.0 100.5,688.1 103.4,687.4 106.3,686.9 109.5,687.2 112.2,687.7 115.5,688.0 118.5,688.0 120.8,687.4 123.4,686.2 126.1,684.9 128.8,683.5 131.4,681.8 133.6,679.8 135.0,677.2 136.0,674.4 137.2,672.2 140.5,669.8 142.5,671.2 144.7,672.8 147.0,673.3 149.9,672.6 151.6,671.1 153.5,669.1 156.0,667.6 158.6,666.1 160.3,664.4 162.0,662.5 164.0,660.8 166.1,659.4 168.5,658.5 171.2,658.3 174.2,658.0 177.2,657.9 180.0,657.8 182.3,657.3 184.5,655.4 185.8,652.9 187.5,650.9 189.9,649.9 192.6,648.6 195.6,647.5 198.5,646.8 201.2,646.2 203.7,645.5 206.1,644.9 208.5,644.3 211.7,643.3 214.8,642.4 217.2,642.0 221.0,643.6 223.5,639.7 227.2,637.2 229.8,633.5 232.8,632.0 235.5,631.0"/>
<polyline points="198.5,646.8 200.2,645.1 202.2,642.5 204.0,640.1 205.9,637.6 207.4,634.8 208.5,632.6 210.3,630.6 211.6,628.5 211.8,625.3 211.6,622.2 212.0,619.2 212.7,616.1 213.2,612.7 214.4,609.4 217.5,607.3 220.7,605.5 223.6,604.0 225.9,602.2 227.1,599.6 228.0,597.0 230.7,592.7 234.2,591.5"/>
<polyline points="346.8,656.0 346.6,657.9 346.6,660.7 346.8,663.5 347.1,666.4 348.0,669.4 348.5,672.3 347.3,674.9 345.7,677.3 345.0,679.8 345.8,682.9 347.4,686.0 348.2,688.4 348.1,691.0 347.5,693.4 345.9,696.6 344.1,699.5 343.9,703.5 345.8,705.0 348.5,706.6 350.7,707.0 353.2,706.0 355.8,704.9 358.5,704.7 361.1,704.8 363.6,705.4 366.1,706.2 368.4,706.6 371.1,707.2 373.8,707.6 376.2,708.1 378.8,709.8 381.0,710.9 383.5,709.7 386.0,708.5 388.6,708.8 391.2,710.3 392.7,712.2 394.1,714.7 395.1,717.2 395.7,720.4 396.0,723.5 397.3,726.0 399.2,728.4 400.2,731.0 400.1,734.2 399.7,737.2 399.2,740.2 398.4,743.1 398.4,746.0 399.2,748.8 400.0,751.8 401.2,754.6 403.2,757.6 405.6,760.5 407.3,761.8 406.2,759.4 404.7,757.0 406.7,757.8 408.2,760.7 409.4,763.4 411.2,765.9 412.7,768.2 414.3,770.3 415.4,772.1 415.8,774.9 416.2,777.9 416.8,780.5 418.2,782.8 421.1,784.3 424.4,785.9 426.3,788.5 427.7,791.2 429.2,793.5 430.7,795.8 432.5,798.3 434.4,800.7 436.0,803.3 437.1,806.0 436.6,808.8 435.8,812.0 436.0,814.6 436.3,817.3 436.9,820.0 437.6,822.8 437.9,825.6 438.1,828.0 437.0,831.6 434.2,832.3 430.8,833.7 428.0,834.9 423.9,836.8 421.3,837.5 418.9,837.7 417.3,835.1 416.6,832.5 414.2,832.2 412.2,833.8 409.8,835.8 406.0,837.9 402.4,837.1 400.7,841.1 401.4,844.3 401.6,848.0 402.0,850.8 402.6,852.9 401.3,855.3 399.7,858.0 400.3,861.1 402.1,864.0 403.8,866.8 404.4,870.0 405.1,873.3 406.0,876.0 403.2,879.6 399.6,878.8 396.0,877.9 393.2,878.8 391.0,880.1 388.0,882.2 384.0,884.8 383.3,888.3 384.7,891.4 384.0,895.6 385.4,898.0 387.8,899.7 391.3,902.5 391.6,905.3 391.9,907.6 395.3,910.3 397.2,914.1 396.6,916.7 396.0,919.3 397.6,923.2 400.7,926.6 403.8,929.3 404.3,933.0 405.9,934.5 408.0,936.5 410.0,939.9 411.2,943.0"/>
<polyline points="357.4,943.0 357.6,940.6 358.2,938.1 360.0,936.3 364.1,936.6 366.0,935.3 368.3,933.8 371.4,933.3 374.3,932.8 376.4,931.1 378.5,929.4 381.2,928.5 384.1,928.5 388.1,931.2 392.1,932.9 394.6,932.8 397.1,932.5 401.3,932.5 403.9,933.2"/>
<polyline points="181.6,805.0 184.0,805.1 187.0,805.0 189.5,802.8 192.3,800.5 194.5,799.3 197.1,798.2 200.0,798.0 203.0,796.9 205.7,794.8 207.9,792.9 210.2,791.0 212.0,790.0 214.2,791.5 217.0,792.9 219.3,791.5 221.7,789.4 224.0,787.9 226.7,786.5 229.0,785.7 233.0,786.3 235.0,784.8 236.9,782.7 238.2,780.1 239.1,777.7 240.7,775.5 242.4,773.3 243.7,771.3 245.2,769.2 246.8,767.1 248.2,765.1 249.5,762.6 250.6,760.2 251.8,757.9 253.3,755.4 254.5,752.9 255.4,750.8 256.5,746.8 257.9,744.4 259.7,741.7 261.7,739.5 265.1,738.9 268.2,738.3 269.3,735.7 270.0,732.7 270.6,729.9 270.7,726.1 271.2,722.6 276.0,720.4 277.5,722.8 278.8,725.4 281.6,725.4 283.6,725.4 284.2,727.9 284.8,731.1 286.7,732.6 289.2,733.7 292.1,735.7 295.2,737.7 298.2,740.0 301.1,741.7 303.7,741.3 306.0,741.0 308.3,745.0 307.5,749.0 308.8,751.4 309.7,754.0 307.5,755.6 305.3,757.2 305.0,759.8 305.4,763.2 306.2,766.4 306.5,768.5 302.6,769.9 306.0,773.1 308.8,773.7 311.3,774.8 310.8,777.2 309.4,779.8 309.0,782.8 308.7,786.0 308.5,788.6 308.4,791.5 308.4,794.1 307.4,796.9 306.4,798.9 307.6,801.2 309.1,804.0 308.9,806.5 308.4,809.4 308.0,812.0 308.5,815.1 308.8,818.1 307.6,821.0 306.0,824.0 305.2,826.4 304.3,828.9 303.5,831.0 303.9,834.5 305.4,837.8 307.1,840.6 308.6,842.7 311.1,843.6 308.8,846.1 310.2,848.5 311.6,851.9 311.2,855.0 310.5,858.0 310.7,860.5 311.4,863.2 312.0,865.9 312.0,868.7 312.0,871.5 311.9,874.0 310.9,877.1 309.8,880.0 310.4,883.0 311.7,886.1 312.9,888.4 314.0,890.7 314.7,893.0 314.2,896.6 313.5,900.1 315.8,904.0 314.9,906.5 313.2,909.1 311.7,911.7 310.8,914.1 312.8,915.8 315.9,917.1 317.8,919.4 318.6,922.8 319.7,926.1 321.1,928.2 322.7,930.2 324.6,931.9 326.5,933.6 327.7,936.1 329.0,938.8 330.5,940.9 332.0,942.0"/>
<polyline points="137.0,893.0 138.1,890.4 139.4,887.2 141.1,884.9 143.7,882.6 146.4,881.1 149.5,879.5 152.0,878.0 154.7,876.4 157.0,875.8 159.2,876.9 161.9,878.0 165.5,877.6 168.9,877.4 171.9,879.0 174.8,881.2 177.3,883.9 178.7,887.1 178.4,890.3 177.6,893.9 176.9,896.5 175.8,899.2 174.7,901.9 174.3,904.7 174.0,907.4 173.5,910.1 172.9,912.8 172.1,915.5 171.5,918.1 171.3,920.7 171.3,923.4 171.4,926.1 170.7,928.6 169.1,930.8 167.6,932.8 166.2,936.1 164.9,939.0 163.0,942.0"/>
<polyline points="173.0,829.6 169.9,831.9 169.1,834.8 168.7,838.1 168.6,840.7 168.1,843.0 168.8,845.4 170.8,847.3 173.2,848.6 176.0,849.2 178.9,848.5 182.0,848.0 185.2,848.4 187.9,849.7 188.9,852.2 190.2,854.9 192.4,857.1 194.1,859.9 195.4,863.2 197.0,866.0 198.3,869.8 201.1,871.6 204.4,873.5 206.3,875.8 208.2,877.7 210.9,879.4 214.0,880.3 216.9,878.8 219.7,877.6 221.9,879.7 223.8,882.2 225.7,884.0 227.7,885.6 231.8,887.3 233.6,889.3 235.1,892.0 236.3,894.4 237.1,897.0 237.3,900.2 237.9,903.1 240.2,903.9 242.9,904.3 245.3,905.7 247.9,907.2 250.6,908.6 252.9,910.1 254.8,913.1 256.2,917.0 254.6,921.0 256.5,924.8 258.1,928.1 255.3,932.3 252.3,935.2 250.0,939.0 248.0,942.0"/>
<polyline points="461.0,942.0 462.7,937.9 463.5,935.4 464.4,932.9 464.4,929.6 464.5,925.9 465.6,922.7 467.0,920.0 469.2,916.0 467.8,913.1 466.3,909.9 466.4,907.4 466.9,904.6 467.0,902.0 466.1,898.8 465.9,896.0 467.5,894.0 469.0,892.0 468.5,889.6 468.0,887.0 469.3,884.0 470.7,880.9 471.6,878.3 473.0,876.0 474.7,873.2 475.1,870.0 474.1,866.9 474.1,864.0 476.7,860.1 475.7,857.3 474.6,854.9 474.1,852.3 474.6,849.5 478.9,848.1 482.9,847.0 482.2,843.0 483.0,840.6 484.4,838.4 486.7,837.0 489.2,835.2 491.1,833.1 492.8,830.9 493.8,827.8 494.7,824.8 497.7,821.7 499.6,820.1 501.5,818.4 502.7,816.1 503.6,813.8 505.9,809.9 510.1,809.1 510.8,804.9 513.6,802.7 514.7,800.3 516.0,798.0 520.1,798.7 524.4,796.5 525.6,793.6 526.6,790.7 528.9,789.1 531.1,788.4 533.5,788.4 536.0,789.0 538.9,791.9 542.2,791.5 546.1,790.4 549.5,789.8 553.1,789.1 555.9,789.4 555.5,792.4 553.5,795.8 552.4,798.5 551.0,801.0 549.7,803.1 548.6,805.3 547.7,808.2 546.6,811.3 544.4,813.8 542.0,816.0 539.9,818.0 538.1,820.0 537.1,822.5 536.3,825.1 534.7,828.0 533.0,830.0"/>
<polyline points="589.0,858.4 585.9,859.9 584.5,862.4 584.1,866.0 584.0,868.7 582.9,871.3 581.7,873.9 580.7,876.4 579.6,879.0 579.0,882.0 578.7,884.5 577.4,886.9 576.1,889.3 575.6,891.9 575.1,894.5 574.4,897.2 573.8,899.7 573.9,902.0 574.5,905.2 574.6,908.0 574.0,911.1 573.2,914.1 572.0,916.6 570.7,919.0 570.8,921.6 571.6,924.0 571.1,926.9 570.4,930.0 570.8,933.0 571.1,936.0 571.1,939.4 571.0,942.0"/>
<polyline points="638.0,928.0 640.2,930.2 642.7,933.4 645.5,935.1 648.2,936.8 650.2,939.8 652.0,942.0"/>
<polyline points="671.6,791.0 673.3,789.3 675.8,787.3 677.0,785.5 674.1,783.0 671.3,778.7 672.1,775.1 672.4,772.6 672.2,769.5 671.4,766.9 670.4,764.0 669.4,761.1 668.4,758.4 667.3,755.6 666.3,753.0 664.9,749.0 664.0,746.0 664.2,746.1 664.5,743.8 664.6,740.7 665.1,738.0 667.3,735.7 670.1,734.3 673.2,733.1 675.7,732.4 675.9,732.9 677.8,732.1 680.1,730.1 681.7,728.1 683.8,726.1 686.2,724.3 688.3,723.0 690.7,721.7 693.0,720.3 694.8,718.8 696.3,716.6 697.2,714.1 699.0,712.0 701.1,709.6 702.3,706.6 703.9,704.5 706.4,705.6 709.0,707.6 711.8,707.9 715.0,708.1 717.9,707.8 720.3,706.6 722.8,705.1 725.0,704.3 728.2,704.9 732.0,705.7 734.7,704.7 737.6,703.4 740.6,703.0 742.9,703.2 745.3,705.2 747.2,707.8 750.0,709.4 753.0,711.1 755.6,713.2 758.1,715.9 759.6,718.6 761.0,721.6 762.3,723.6 765.0,724.1 768.1,724.0 772.2,725.7 773.9,728.8 775.5,732.3 777.3,734.3 779.2,736.2 781.1,737.8 783.3,738.8 785.5,740.0 787.7,741.5 790.3,743.2 793.0,745.1 795.8,746.6 798.2,748.0 800.3,749.6 802.3,751.2 804.4,753.3 806.4,755.4 808.4,757.7 810.2,760.3 811.7,763.1 813.2,765.9 814.9,768.2 816.6,770.4 818.3,772.7 820.4,774.9 822.8,777.0 825.2,778.7 829.0,780.6 832.0,781.6"/>
<polyline points="816.0,787.0 816.1,789.2 816.1,792.0 814.3,794.1 812.1,796.1 809.9,797.8 808.0,800.0 807.2,803.6 806.1,807.1 803.5,809.1 800.1,810.2 797.5,811.0 794.6,811.5 792.0,811.5 788.7,810.8 785.9,810.2 783.5,811.9 782.0,815.0 780.3,816.9 777.9,818.1 776.0,819.6 774.5,822.7 773.8,826.0 773.8,829.0 773.9,832.0 773.8,835.6 773.4,839.2 770.7,843.1 770.9,846.2 771.3,850.0 771.0,852.6 770.4,855.2 769.7,858.0 769.5,860.5 769.3,863.3 768.6,865.9 767.9,867.6 765.8,869.2 763.6,870.8 763.2,874.2 763.5,878.1 764.7,881.5 765.7,885.0 764.8,888.6 763.6,892.2 762.7,894.6 761.8,897.1 761.2,899.9 760.7,902.3 760.5,905.0 760.4,907.6 760.0,910.0 759.4,913.0 759.3,915.8 759.6,917.7 762.4,920.9 760.1,925.1 757.0,928.0"/>
<polyline points="847.0,784.0 849.5,784.6 853.2,784.2 855.8,782.7 858.6,780.8 861.9,779.6 864.7,779.0 867.9,778.7 870.8,778.4 872.8,778.2 875.0,775.0 877.1,773.9 879.7,772.8 882.1,772.0 885.2,771.5 888.2,770.4 891.2,767.8 894.1,765.9 897.0,766.5 899.8,768.2 902.5,770.3 904.9,772.1 907.0,774.9 909.3,774.6 912.0,773.7 915.1,772.6 917.6,771.1 919.2,769.1 920.4,766.1 920.2,763.3 919.9,760.3 921.1,758.1 924.2,757.3 928.1,756.4 930.6,755.3 933.1,754.0 935.9,752.7 938.3,751.8 940.9,750.9 943.5,750.3 945.9,749.7 948.8,749.2 951.5,748.9 954.1,748.2 956.9,747.2 959.6,745.7 961.9,744.5 965.7,744.4 968.3,742.7 971.9,740.8 974.5,739.7 977.3,738.4 980.1,737.1 982.7,735.6 985.4,734.1 987.9,732.8 990.9,731.0 994.0,729.9 997.5,729.8 1000.9,728.7 1003.0,727.0 1005.5,725.3 1007.8,723.8 1010.4,722.2 1013.0,721.0 1015.3,720.2 1017.8,719.6 1020.1,718.4 1022.7,717.3 1025.4,716.6 1028.1,716.1 1030.7,715.4 1033.4,714.9 1036.0,714.8 1039.9,715.7 1043.0,716.6 1047.0,715.6 1049.8,717.2 1053.0,718.6 1056.5,717.9 1060.1,716.7 1062.6,715.9 1065.3,715.2 1067.9,714.5 1071.7,714.0 1074.8,713.7 1076.6,711.8 1078.1,709.7 1080.8,709.1 1084.0,708.1 1086.4,706.2 1088.9,703.9 1090.8,702.1 1092.0,701.4 1093.9,702.6 1096.9,703.9 1099.7,704.9 1103.1,705.1 1105.6,704.4 1106.9,702.5 1107.8,699.6 1109.1,697.0 1111.1,694.9 1113.2,693.4 1115.5,692.3 1118.3,691.1 1120.6,689.2 1122.7,686.6 1124.1,684.5 1125.7,682.2 1128.0,682.0 1130.9,681.4 1133.3,680.8 1137.0,679.4 1140.2,679.8 1143.2,680.1 1145.9,678.3 1147.1,674.8 1150.3,672.8 1152.8,672.1 1155.8,672.0 1157.9,673.0 1160.5,675.1 1162.6,676.1 1165.0,677.6 1167.3,679.5 1169.8,681.4 1172.0,683.5 1174.4,685.5 1177.4,686.9 1180.4,688.2 1182.7,690.0 1184.4,691.5 1187.9,693.3 1190.3,694.0 1193.5,695.0 1196.9,696.1 1199.9,697.3 1201.8,698.5"/>
<polyline points="1013.0,721.0 1011.7,722.6 1010.2,725.0 1008.9,728.0 1007.8,730.3 1005.7,732.2 1003.7,734.1 1002.2,736.2 1000.9,738.8 999.3,741.2 997.4,743.7 996.6,746.1 995.5,748.7 994.0,751.0 992.5,753.4 990.9,755.7 989.3,758.1 987.5,760.2 986.1,762.1 984.8,764.6 983.5,766.7 981.8,768.5 979.6,770.6 977.7,772.7 975.5,775.8 973.9,778.9 973.8,782.5 974.3,786.0 974.1,789.6 973.8,792.9 972.9,795.5 971.2,797.3 968.5,798.7 966.0,799.0"/>
<polyline points="921.0,863.6 923.9,862.8 925.1,860.5 925.9,856.9 926.9,853.9 929.2,851.9 931.9,849.9 933.3,847.8 934.8,845.1 936.3,842.5 937.8,840.6 940.6,840.6 942.9,841.3 945.8,840.1 948.8,837.8 950.3,835.5 951.6,832.7 953.2,830.1 954.7,827.6 955.2,824.7 955.5,821.9 956.8,819.3 957.9,816.7 958.1,814.0 958.5,811.5 959.6,809.2 960.8,806.9 962.8,804.2 964.9,801.3 965.8,799.0"/>
<polyline points="931.0,878.4 933.0,876.9 936.0,876.0 939.1,876.0 941.9,875.8 943.4,874.0 945.3,872.1 947.2,871.2 950.0,870.4 953.1,870.4 956.0,870.2 958.6,870.1 961.2,869.8 963.5,868.6 965.7,867.4 968.7,867.1 971.5,866.8 974.1,866.1 976.2,864.7 977.8,862.5 979.3,860.2 980.4,857.3 981.6,854.1 983.6,851.5 986.2,849.8 989.0,848.7 991.7,847.5 994.5,846.6 997.4,845.6 999.1,843.1 999.7,840.5 1000.6,837.8 1001.5,834.9 1002.4,832.1 1003.6,829.6 1004.3,826.9 1005.3,824.2 1006.8,821.8 1008.5,819.6 1010.9,817.8 1013.3,816.2 1015.2,814.3 1017.2,812.6 1019.3,810.9 1021.5,809.5 1024.0,809.0 1026.4,809.0 1028.8,808.8 1031.3,808.8 1034.0,808.7 1036.9,808.2 1040.1,807.3 1043.2,806.5 1046.0,806.8 1048.7,807.8 1050.8,808.9 1052.6,810.4 1054.4,812.1 1055.9,814.3 1056.6,817.1 1056.7,819.5 1057.4,822.3 1057.9,825.3 1057.5,828.1 1057.0,830.7 1056.3,833.2 1055.5,835.7 1054.7,837.9 1053.8,840.8 1053.3,843.7 1053.4,846.2 1055.4,848.4 1058.1,849.9 1061.1,852.3 1064.1,854.1 1066.7,853.4 1069.1,852.9 1070.2,855.7 1071.0,859.0 1073.9,862.3 1076.9,863.0 1079.9,863.7 1081.3,865.8 1081.3,869.0 1081.2,872.0 1081.5,874.9 1081.7,877.8 1082.1,880.2 1084.6,882.2 1084.3,885.4 1083.6,888.9 1083.0,891.6"/>
<polyline points="986.0,942.0 986.9,940.3 988.5,938.0 990.4,935.8 992.2,934.3 995.0,932.9 998.0,932.4 1000.5,932.1 1003.0,932.0 1005.4,932.8 1008.0,933.4 1011.4,932.2 1014.9,930.7 1017.3,929.8 1019.6,928.9 1021.6,927.6 1023.0,925.4 1024.5,922.7 1026.1,920.0 1027.2,917.2 1028.3,914.3 1030.2,912.1 1033.2,910.2 1036.2,908.6 1039.8,907.4 1043.3,906.6 1046.4,904.6 1048.4,902.7 1051.0,900.5 1053.8,898.6 1056.4,896.8 1059.2,895.1 1061.7,893.5 1064.9,891.8 1068.0,890.6 1071.4,890.4 1075.0,890.7 1077.6,890.9 1080.3,891.4 1083.0,891.4 1085.6,890.5 1088.4,889.4 1091.0,888.9 1094.2,889.5 1096.9,891.1 1098.5,892.8 1100.0,894.9 1101.8,897.2 1103.4,899.2 1105.1,901.5 1107.0,903.6 1109.0,904.8 1112.2,904.0 1114.9,901.5 1116.7,899.6 1119.1,898.2 1121.1,897.5 1123.5,897.1 1126.1,897.7 1128.9,899.1 1132.0,901.1 1134.6,902.8 1137.4,904.8 1140.0,906.5 1143.6,906.8 1147.0,905.6 1150.5,904.1 1153.8,902.7 1156.5,900.2 1159.0,898.6 1161.3,900.7 1163.3,903.7 1165.8,906.0 1168.0,909.0 1168.9,911.9 1170.4,914.7 1171.9,917.1 1174.0,918.8 1176.1,919.8 1178.6,921.2 1181.1,922.9 1183.1,925.4 1184.3,928.2 1185.1,931.5 1185.0,935.0 1183.7,937.9 1182.3,940.2 1181.0,942.0"/>
<polyline points="1213.0,710.0 1213.4,712.2 1214.6,714.9 1214.4,717.7 1214.6,720.0 1217.9,721.8 1221.8,723.4 1224.8,726.4 1228.7,727.4 1229.5,729.4 1230.0,732.1 1230.8,734.5 1231.6,736.9 1232.2,739.2 1232.9,742.0 1233.2,745.5 1233.5,748.9 1234.0,751.6 1234.9,753.7 1236.8,755.6 1239.0,756.4"/>
<polyline points="1195.4,738.0 1195.8,741.1 1198.2,741.2 1201.2,741.6 1204.0,742.1 1207.3,742.1 1210.0,742.3 1213.6,744.9 1215.3,747.8 1217.1,749.8 1219.8,751.9 1222.0,753.0 1224.4,754.0 1227.0,754.4 1229.7,755.2 1231.9,756.9 1234.0,758.1 1236.9,758.2 1239.0,757.6"/>
<polyline points="1239.0,756.4 1241.7,759.9 1241.7,763.0 1241.4,765.9 1243.8,769.9 1243.1,773.0 1242.3,776.0 1242.6,778.6 1243.3,781.1 1244.8,785.0 1243.5,786.7 1242.1,789.0 1241.6,792.3 1241.1,796.1 1240.7,798.7 1239.8,801.4 1239.2,804.0 1239.1,806.7 1239.3,809.5 1240.1,812.0 1241.2,815.1 1241.7,817.9 1241.9,820.5 1242.3,822.9 1243.3,825.4 1244.0,828.0 1245.6,832.1 1245.1,834.5 1244.9,837.0 1246.9,838.3 1249.4,839.6 1251.2,842.1 1252.5,844.8 1253.7,848.8 1255.0,850.5 1257.0,852.3 1259.0,854.1 1260.9,855.8 1262.9,857.6 1265.1,858.8 1267.9,860.2 1270.2,861.5 1274.3,863.6 1275.1,866.3 1275.8,869.2 1278.4,871.1 1280.7,872.9 1281.2,876.9 1283.4,878.4 1286.4,880.2 1289.1,881.8 1291.5,884.0 1293.7,886.1 1296.3,886.9 1299.0,887.6 1301.1,888.9 1302.7,890.9 1304.0,893.0 1305.2,895.9 1306.1,898.9 1307.5,901.0 1308.8,903.1 1310.1,905.6 1311.5,908.3 1312.3,910.6 1313.7,912.9 1315.2,914.9 1317.3,917.1 1319.3,918.7 1321.5,921.6 1319.7,924.9 1318.3,928.1 1316.3,931.3 1313.0,932.8 1310.3,933.6 1308.0,935.1 1304.6,935.1 1300.9,936.2 1297.9,937.7 1294.9,938.8 1291.9,940.3 1290.0,942.0"/>
<polyline points="1239.0,756.4 1242.4,756.6 1246.3,757.6 1248.2,760.6 1249.4,763.1 1252.8,764.1 1254.2,767.0 1255.3,770.0 1253.8,774.0 1254.6,778.0 1252.4,781.9 1253.7,784.2 1255.4,786.5 1256.2,788.9 1256.9,791.8 1258.0,794.0 1260.2,798.0 1259.6,800.4 1259.0,803.0 1259.9,806.0 1261.4,808.7 1263.3,810.9 1265.2,812.8 1267.1,815.9 1269.2,816.9 1271.8,818.3 1274.5,820.7 1278.0,822.4 1281.6,823.0 1285.0,823.7 1288.3,823.8 1291.0,823.8 1293.3,825.4 1296.8,826.1 1299.5,827.6 1302.9,829.1 1305.7,830.2 1308.3,831.8 1310.4,833.3 1311.0,836.0 1313.9,837.8 1317.8,839.0 1321.5,840.1 1325.1,840.3 1329.0,837.6 1331.8,836.4 1334.9,835.4 1338.4,835.4 1341.0,835.0"/>
<polyline points="1161.0,899.6 1162.0,901.5 1164.1,903.8 1165.7,906.2 1167.8,909.3 1170.0,912.0 1171.4,914.5 1172.0,917.0 1174.2,918.9 1177.0,920.0 1179.3,921.7 1181.2,923.8 1183.3,925.8 1184.8,928.1 1185.0,930.4 1184.6,932.9 1183.2,935.9 1182.0,939.0 1181.0,942.0"/>
<circle cx="470.3" cy="885.2" r="2.5" fill="#0000ff" stroke="none"/>
<circle cx="468.6" cy="915.4" r="2.6" fill="#0000ff" stroke="none"/>
<circle cx="575.3" cy="886.0" r="1.8" fill="#0000ff" stroke="none"/>
<circle cx="574.8" cy="897.5" r="1.8" fill="#0000ff" stroke="none"/>
<circle cx="573.0" cy="919.0" r="1.8" fill="#0000ff" stroke="none"/>
</g></g>
<rect x="96.0" y="135.0" width="1246.0" height="808.0" fill="none" stroke="#000" stroke-width="1.95"/>
<text x="696" y="36.3" font-size="28.6" font-weight="bold" text-anchor="middle">SLAPIS</text>
<text x="108" y="122.6" font-size="20.83" xml:space="preserve">VALID: WED, 08 OCT 2025 15 UTC   ACPCP 1h (38-39h) T=039hr WRF-GFS-4.0km</text>
<text x="1330.5" y="122.6" font-size="20.83" text-anchor="end">Init: Tue, 00 UTC</text>
<text x="85" y="871.4" font-size="20.83" text-anchor="end">10°N</text>
<text x="85" y="767.4" font-size="20.83" text-anchor="end">12°N</text>
<text x="85" y="662.4" font-size="20.83" text-anchor="end">14°N</text>
<text x="85" y="558.4" font-size="20.83" text-anchor="end">16°N</text>
<text x="85" y="454.4" font-size="20.83" text-anchor="end">18°N</text>
<text x="85" y="349.4" font-size="20.83" text-anchor="end">20°N</text>
<text x="85" y="245.4" font-size="20.83" text-anchor="end">22°N</text>
<text x="143.0" y="970" font-size="20.83" text-anchor="middle">6°W</text>
<text x="299.0" y="970" font-size="20.83" text-anchor="middle">3°W</text>
<text x="456.0" y="970" font-size="20.83" text-anchor="middle">0°</text>
<text x="612.0" y="970" font-size="20.83" text-anchor="middle">3°E</text>
<text x="769.0" y="970" font-size="20.83" text-anchor="middle">6°E</text>
<text x="925.0" y="970" font-size="20.83" text-anchor="middle">9°E</text>
<text x="1082.0" y="970" font-size="20.83" text-anchor="middle">12°E</text>
<text x="1238.0" y="970" font-size="20.83" text-anchor="middle">15°E</text>
<rect x="22.05" y="1116.2" width="82.56" height="69.70000000000005" fill="#ffffff"/>
<rect x="104.11" y="1116.2" width="82.56" height="69.70000000000005" fill="#c1e6ba"/>
<rect x="186.16" y="1116.2" width="82.56" height="69.70000000000005" fill="#9bd696"/>
<rect x="268.22" y="1116.2" width="82.56" height="69.70000000000005" fill="#70c274"/>
<rect x="350.27" y="1116.2" width="82.56" height="69.70000000000005" fill="#40aa5d"/>
<rect x="432.33" y="1116.2" width="82.56" height="69.70000000000005" fill="#248c46"/>
<rect x="514.39" y="1116.2" width="82.56" height="69.70000000000005" fill="#a5cde3"/>
<rect x="596.44" y="1116.2" width="82.56" height="69.70000000000005" fill="#74b3d8"/>
<rect x="678.50" y="1116.2" width="82.56" height="69.70000000000005" fill="#4d9aca"/>
<rect x="760.55" y="1116.2" width="82.56" height="69.70000000000005" fill="#2878b8"/>
<rect x="842.61" y="1116.2" width="82.56" height="69.70000000000005" fill="#fca082"/>
<rect x="924.66" y="1116.2" width="82.56" height="69.70000000000005" fill="#fb7858"/>
<rect x="1006.72" y="1116.2" width="82.56" height="69.70000000000005" fill="#f34c37"/>
<rect x="1088.78" y="1116.2" width="82.56" height="69.70000000000005" fill="#db2824"/>
<rect x="1170.83" y="1116.2" width="82.56" height="69.70000000000005" fill="#ca181d"/>
<rect x="1252.89" y="1116.2" width="82.56" height="69.70000000000005" fill="#b698f3"/>
<rect x="1334.94" y="1116.2" width="82.56" height="69.70000000000005" fill="#4b0082"/>
<rect x="22.05" y="1116.2" width="1394.95" height="69.70000000000005" fill="none" stroke="#000" stroke-width="1.67"/>
<line x1="22.1" y1="1185.9" x2="22.1" y2="1192.8000000000002" stroke="#000" stroke-width="1.67"/>
<text x="22.1" y="1217.1" font-size="20.83" text-anchor="middle">0</text>
<line x1="104.1" y1="1185.9" x2="104.1" y2="1192.8000000000002" stroke="#000" stroke-width="1.67"/>
<text x="104.1" y="1217.1" font-size="20.83" text-anchor="middle">1</text>
<line x1="186.2" y1="1185.9" x2="186.2" y2="1192.8000000000002" stroke="#000" stroke-width="1.67"/>
<text x="186.2" y="1217.1" font-size="20.83" text-anchor="middle">2</text>
<line x1="268.2" y1="1185.9" x2="268.2" y2="1192.8000000000002" stroke="#000" stroke-width="1.67"/>
<text x="268.2" y="1217.1" font-size="20.83" text-anchor="middle">5</text>
<line x1="350.3" y1="1185.9" x2="350.3" y2="1192.8000000000002" stroke="#000" stroke-width="1.67"/>
<text x="350.3" y="1217.1" font-size="20.83" text-anchor="middle">10</text>
<line x1="432.3" y1="1185.9" x2="432.3" y2="1192.8000000000002" stroke="#000" stroke-width="1.67"/>
<text x="432.3" y="1217.1" font-size="20.83" text-anchor="middle">15</text>
<line x1="514.4" y1="1185.9" x2="514.4" y2="1192.8000000000002" stroke="#000" stroke-width="1.67"/>
<text x="514.4" y="1217.1" font-size="20.83" text-anchor="middle">20</text>
<line x1="596.4" y1="1185.9" x2="596.4" y2="1192.8000000000002" stroke="#000" stroke-width="1.67"/>
<text x="596.4" y="1217.1" font-size="20.83" text-anchor="middle">25</text>
<line x1="678.5" y1="1185.9" x2="678.5" y2="1192.8000000000002" stroke="#000" stroke-width="1.67"/>
<text x="678.5" y="1217.1" font-size="20.83" text-anchor="middle">30</text>
<line x1="760.6" y1="1185.9" x2="760.6" y2="1192.8000000000002" stroke="#000" stroke-width="1.67"/>
<text x="760.6" y="1217.1" font-size="20.83" text-anchor="middle">35</text>
<line x1="842.6" y1="1185.9" x2="842.6" y2="1192.8000000000002" stroke="#000" stroke-width="1.67"/>
<text x="842.6" y="1217.1" font-size="20.83" text-anchor="middle">40</text>
<line x1="924.7" y1="1185.9" x2="924.7" y2="1192.8000000000002" stroke="#000" stroke-width="1.67"/>
<text x="924.7" y="1217.1" font-size="20.83" text-anchor="middle">50</text>
<line x1="1006.7" y1="1185.9" x2="1006.7" y2="1192.8000000000002" stroke="#000" stroke-width="1.67"/>
<text x="1006.7" y="1217.1" font-size="20.83" text-anchor="middle">60</text>
<line x1="1088.8" y1="1185.9" x2="1088.8" y2="1192.8000000000002" stroke="#000" stroke-width="1.67"/>
<text x="1088.8" y="1217.1" font-size="20.83" text-anchor="middle">75</text>
<line x1="1170.8" y1="1185.9" x2="1170.8" y2="1192.8000000000002" stroke="#000" stroke-width="1.67"/>
<text x="1170.8" y="1217.1" font-size="20.83" text-anchor="middle">100</text>
<line x1="1252.9" y1="1185.9" x2="1252.9" y2="1192.8000000000002" stroke="#000" stroke-width="1.67"/>
<text x="1252.9" y="1217.1" font-size="20.83" text-anchor="middle">125</text>
<line x1="1334.9" y1="1185.9" x2="1334.9" y2="1192.8000000000002" stroke="#000" stroke-width="1.67"/>
<text x="1334.9" y="1217.1" font-size="20.83" text-anchor="middle">150</text>
<line x1="1417.0" y1="1185.9" x2="1417.0" y2="1192.8000000000002" stroke="#000" stroke-width="1.67"/>
<text x="1417.0" y="1217.1" font-size="20.83" text-anchor="middle">200</text>
<text x="719" y="1244.5" font-size="20.83" text-anchor="middle">PCP Convective (mm)</text>
</svg></body></html>
